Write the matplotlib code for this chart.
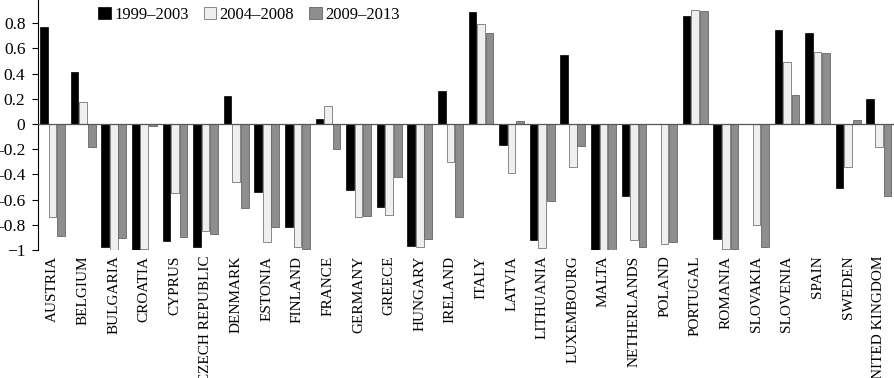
import numpy as np
import matplotlib
matplotlib.use("Agg")
import matplotlib.pyplot as plt

countries = ["AUSTRIA", "BELGIUM", "BULGARIA", "CROATIA", "CYPRUS", "CZECH REPUBLIC",
             "DENMARK", "ESTONIA", "FINLAND", "FRANCE", "GERMANY", "GREECE", "HUNGARY",
             "IRELAND", "ITALY", "LATVIA", "LITHUANIA", "LUXEMBOURG", "MALTA",
             "NETHERLANDS", "POLAND", "PORTUGAL", "ROMANIA", "SLOVAKIA", "SLOVENIA",
             "SPAIN", "SWEDEN", "UNITED KINGDOM"]
p1999 = [0.77, 0.41, -0.98, -1.00, -0.93, -0.98, 0.225, -0.54, -0.82, 0.04, -0.52,
         -0.66, -0.97, 0.265, 0.885, -0.17, -0.92, 0.55, -1.00, -0.57, 0.0, 0.86,
         -0.915, 0.0, 0.745, 0.72, -0.51, 0.20]
p2004 = [-0.74, 0.175, -1.00, -0.99, -0.55, -0.85, -0.46, -0.94, -0.98, 0.145, -0.74,
         -0.72, -0.98, -0.30, 0.795, -0.385, -0.985, -0.345, -1.00, -0.92, -0.955, 0.905,
         -0.995, -0.80, 0.49, 0.57, -0.345, -0.18]
p2009 = [-0.885, -0.185, -0.905, -0.015, -0.90, -0.875, -0.67, -0.815, -0.995, -0.20,
         -0.73, -0.42, -0.915, -0.74, 0.72, 0.02, -0.61, -0.175, -1.00, -0.975, -0.935,
         0.90, -0.99, -0.975, 0.23, 0.56, 0.03, -0.575]
labels = ["1999\u20132003", "2004\u20132008", "2009\u20132013"]
yticks = [-1, -0.8, -0.6, -0.4, -0.2, 0, 0.2, 0.4, 0.6, 0.8]
ytick_labels = ["\u22121", "-0.8", "-0.6", "-0.4", "-0.2", "0", "0.2", "0.4", "0.6", "0.8"]

plt.rcParams["font.family"] = ["Liberation Serif", "DejaVu Serif"]

fig = plt.figure(figsize=(8.95, 3.78), dpi=100)
ax = fig.add_axes([38 / 895, 128 / 378, 1 - 38 / 895, 250 / 378])

x = np.arange(len(countries))
w = 0.25
off = 0.28
ax.bar(x - off, p1999, w, color="black", edgecolor="black", linewidth=0.5, label=labels[0])
ax.bar(x, p2004, w, color="#efefef", edgecolor="#777777", linewidth=0.6, label=labels[1])
ax.bar(x + off, p2009, w, color="#8e8e8e", edgecolor="#666666", linewidth=0.6, label=labels[2])
ax.axhline(0, color="#555555", lw=0.9, zorder=3)

ax.set_xlim(-0.474, 27.53)
ax.set_ylim(-1, 0.984)
ax.set_yticks(yticks)
ax.set_yticklabels(ytick_labels, fontsize=12.5)
ax.tick_params(axis="y", length=4, width=0.8, pad=5)
ax.set_xticks(x)
ax.set_xticklabels(countries, rotation=90, fontsize=11, va="top")
ax.tick_params(axis="x", length=0, pad=4)
for s in ["top", "right", "bottom"]:
    ax.spines[s].set_visible(False)
ax.spines["left"].set_linewidth(0.8)

ax.legend(loc="center", bbox_to_anchor=(0.246, 0.94), ncol=3, frameon=False,
          fontsize=12, handlelength=0.75, handleheight=0.75, handletextpad=0.2,
          columnspacing=0.9)

fig.savefig("out.png", dpi=100)
